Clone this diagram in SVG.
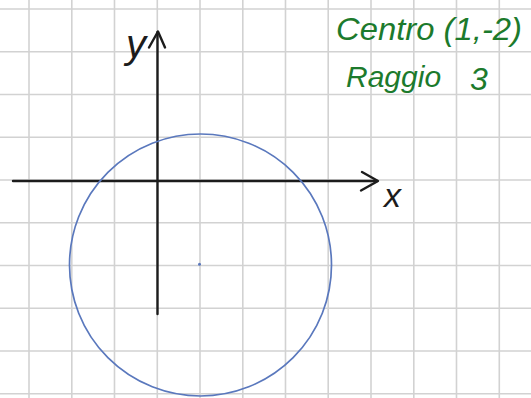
<svg xmlns="http://www.w3.org/2000/svg" width="531" height="398" viewBox="0 0 531 398">
<style>
.grid line{stroke:#d2d2d2;stroke-width:1.6}
.axis{stroke:#1c1c1c;stroke-width:2.4;fill:none;stroke-linecap:round;stroke-linejoin:round}
.hand{font-family:"Liberation Sans",Arial,sans-serif;fill:#1c7a2c;font-style:italic}
.lbl{font-family:"Liberation Sans",Arial,sans-serif;fill:#1c1c1c;font-style:italic}
</style>
<rect width="531" height="398" fill="#ffffff"/>
<g id="grid" class="grid">
<line x1="29" y1="0" x2="29" y2="398"/>
<line x1="71.8" y1="0" x2="71.8" y2="398"/>
<line x1="114.5" y1="0" x2="114.5" y2="398"/>
<line x1="157.3" y1="0" x2="157.3" y2="398"/>
<line x1="200" y1="0" x2="200" y2="398"/>
<line x1="242.8" y1="0" x2="242.8" y2="398"/>
<line x1="285.5" y1="0" x2="285.5" y2="398"/>
<line x1="328.2" y1="0" x2="328.2" y2="398"/>
<line x1="371" y1="0" x2="371" y2="398"/>
<line x1="413.8" y1="0" x2="413.8" y2="398"/>
<line x1="456.5" y1="0" x2="456.5" y2="398"/>
<line x1="499.3" y1="0" x2="499.3" y2="398"/>
<line x1="0" y1="9" x2="531" y2="9"/>
<line x1="0" y1="51.8" x2="531" y2="51.8"/>
<line x1="0" y1="94.5" x2="531" y2="94.5"/>
<line x1="0" y1="137.3" x2="531" y2="137.3"/>
<line x1="0" y1="180" x2="531" y2="180"/>
<line x1="0" y1="222.8" x2="531" y2="222.8"/>
<line x1="0" y1="265.5" x2="531" y2="265.5"/>
<line x1="0" y1="308.2" x2="531" y2="308.2"/>
<line x1="0" y1="351" x2="531" y2="351"/>
<line x1="0" y1="393.8" x2="531" y2="393.8"/>
</g>
<g id="connectors">
<g id="x-axis">
<line class="axis" x1="13" y1="181" x2="377" y2="181"/>
<polyline class="axis" points="362,172 378,181 361,190.5"/>
</g>
<g id="y-axis">
<line class="axis" x1="157.5" y1="314" x2="157.5" y2="32"/>
<polyline class="axis" points="149,47.5 158,31.5 165,47.5"/>
</g>
</g>
<g id="circle">
<circle cx="200.5" cy="265" r="131" fill="none" stroke="#5a78bd" stroke-width="1.7"/>
<circle cx="199.5" cy="264.3" r="1.5" fill="#5a78bd"/>
</g>
<g id="label-y"><text class="lbl" x="126" y="58" font-size="40">y</text></g>
<g id="label-x"><text class="lbl" x="384" y="207" font-size="34">x</text></g>
<g id="note">
<text class="hand" x="336" y="40" font-size="32" textLength="186" lengthAdjust="spacingAndGlyphs">Centro (1,-2)</text>
<text class="hand" x="346" y="87" font-size="30">Raggio</text>
<text class="hand" x="470" y="90" font-size="32">3</text>
</g>
</svg>
